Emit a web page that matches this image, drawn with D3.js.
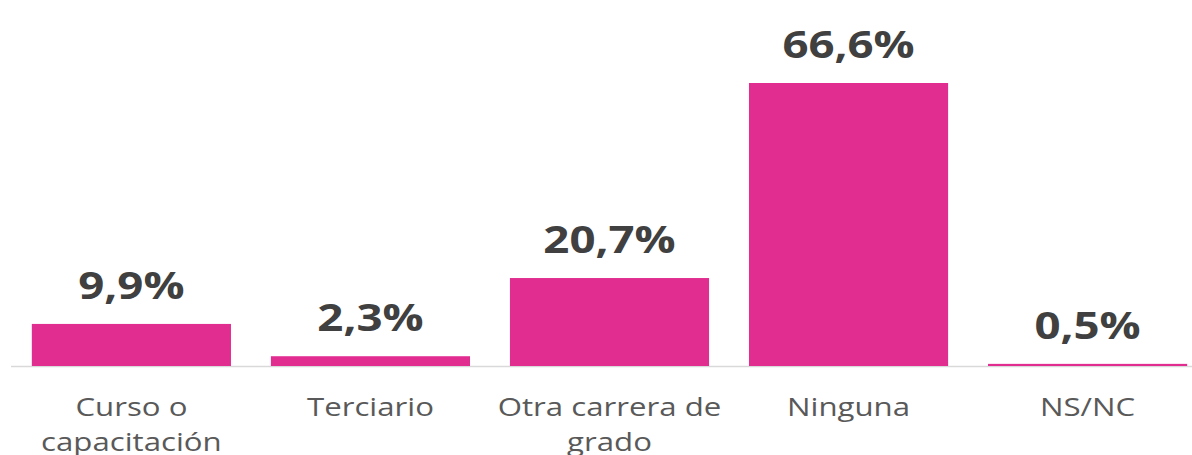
<!DOCTYPE html>
<html><head><meta charset="utf-8">
<script src="https://cdn.jsdelivr.net/npm/d3@7"></script>
<style>body{margin:0;background:#fff}svg{display:block}</style>
</head><body>
<svg id="c" width="1192" height="455"></svg>
<script>
const categories = [["Curso o","capacitación"],["Terciario"],["Otra carrera de","grado"],["Ninguna"],["NS/NC"]];
const values = [9.9, 2.3, 20.7, 66.6, 0.5];
const valueLabels = ["9,9%","2,3%","20,7%","66,6%","0,5%"];

const svg = d3.select("#c");
const W = 1192, H = 455;
const baseY = 366;
const x = d3.scaleBand().domain(d3.range(values.length)).range([12, 1207]).paddingInner(0.167).paddingOuter(0.083);
const y = d3.scaleLinear().domain([0, 66.6]).range([baseY, 83]);

svg.append("line").attr("x1", 11).attr("x2", W).attr("y1", baseY + 0.5).attr("y2", baseY + 0.5)
  .attr("stroke", "#d9d9d9").attr("stroke-width", 1.5);

svg.selectAll("rect.bar").data(values).join("rect").attr("class","bar")
  .attr("x", (d,i) => x(i)).attr("width", x.bandwidth())
  .attr("y", d => y(d)).attr("height", d => baseY - y(d))
  .attr("fill", "#e02d8f");

const sx = 1.2;
svg.selectAll("text.val").data(values).join("text").attr("class","val")
  .attr("transform", (d,i) => `translate(${x(i)+x.bandwidth()/2},${y(d)-25}) scale(${sx},1)`)
  .attr("text-anchor","middle")
  .style("font-family","'Open Sans', sans-serif").style("font-weight",700).style("font-size","38px")
  .attr("fill","#404040")
  .text((d,i) => valueLabels[i]);

const g = svg.selectAll("g.cat").data(categories).join("g").attr("class","cat")
  .attr("transform", (d,i) => `translate(${x(i)+x.bandwidth()/2},${baseY+50}) scale(${sx},1)`);
g.each(function(lines){
  const t = d3.select(this).append("text").attr("text-anchor","middle")
    .style("font-family","'Open Sans', sans-serif").style("font-size","26px").attr("fill","#595959");
  lines.forEach((l,j) => t.append("tspan").attr("x",0).attr("y", j*35).text(l));
});
</script>
</body></html>
